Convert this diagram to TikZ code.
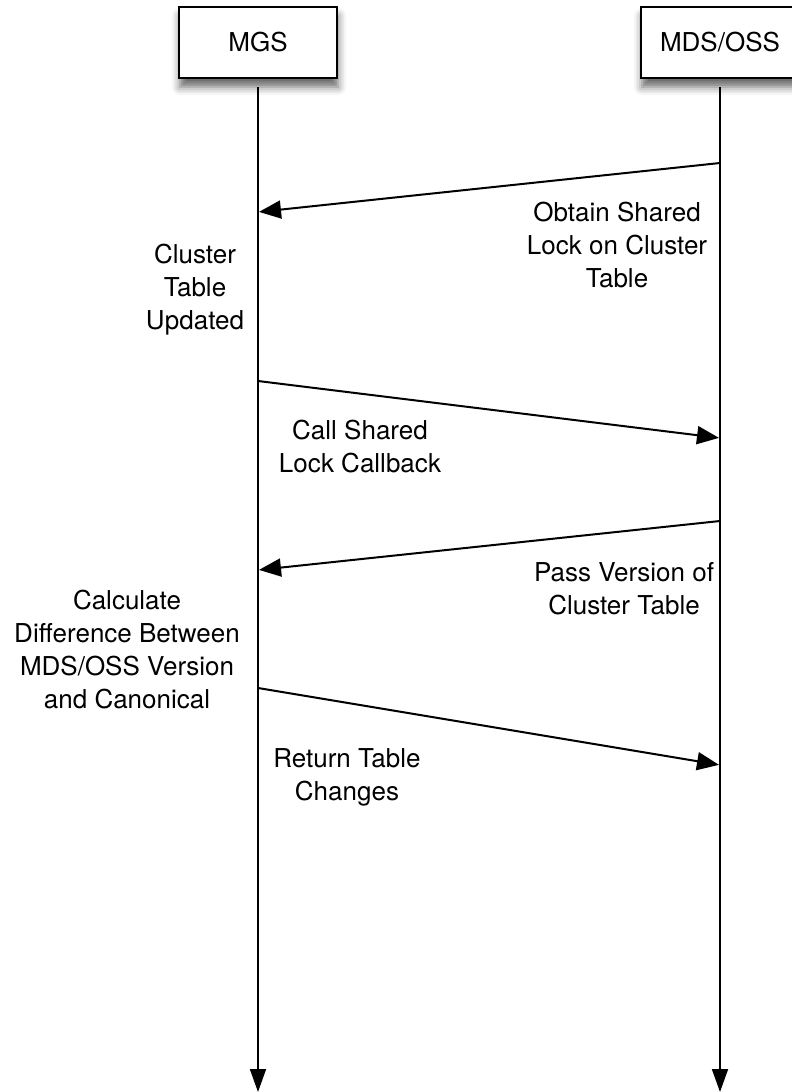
\documentclass[tikz,border=0pt]{standalone}
\usepackage{fontspec}
\setmainfont{TeX Gyre Heros}
\usetikzlibrary{arrows.meta,shadows.blur}
\begin{document}
\begin{tikzpicture}[x=1pt,y=-1pt,
  actor/.style={draw=black,line width=2pt,fill=white,minimum width=158pt,minimum height=71pt,
    font=\fontsize{26}{33}\selectfont,
    blur shadow={shadow xshift=1pt,shadow yshift=-9pt,shadow blur radius=8pt,shadow opacity=60}},
  lbl/.style={align=center,font=\fontsize{26}{33}\selectfont,inner sep=0pt},
  life/.style={line width=1.8pt,-{Triangle[length=23pt,width=16pt]}},
  msg/.style={line width=2pt,-{Triangle[length=22pt,width=18pt]},shorten >=1pt}]
\useasboundingbox (0,0) rectangle (792,1092);
\node[actor] (mgs) at (258,42.5) {MGS};
\node[actor] (mds) at (720,42.5) {MDS/OSS};
\coordinate (mgstop) at (258,87);
\coordinate (mdstop) at (720,87);
\coordinate (mgsend) at (258,1092);
\coordinate (mdsend) at (720,1092);
\draw[life] (mgstop) -- (mgsend);
\draw[life] (mdstop) -- (mdsend);
% messages
\coordinate (a1s) at (720,163); \coordinate (a1e) at (258,212);
\coordinate (a2s) at (258,381); \coordinate (a2e) at (720,438);
\coordinate (a3s) at (720,521); \coordinate (a3e) at (258,570);
\coordinate (a4s) at (258,688); \coordinate (a4e) at (720,765);
\draw[msg] (a1s) -- (a1e);
\draw[msg] (a2s) -- (a2e);
\draw[msg] (a3s) -- (a3e);
\draw[msg] (a4s) -- (a4e);
\node[lbl] (l1) at (617,245) {Obtain Shared\\Lock on Cluster\\Table};
\node[lbl] (l2) at (195,290) {Cluster\\Table\\Updated};
\node[lbl] (l3) at (360,447) {Call Shared\\Lock Callback};
\node[lbl] (l4) at (624,589) {Pass Version of\\Cluster Table};
\node[lbl] (l5) at (127,650) {Calculate\\Difference Between\\MDS/OSS Version\\and Canonical};
\node[lbl] (l6) at (347,777) {Return Table\\Changes};
\end{tikzpicture}
\end{document}
